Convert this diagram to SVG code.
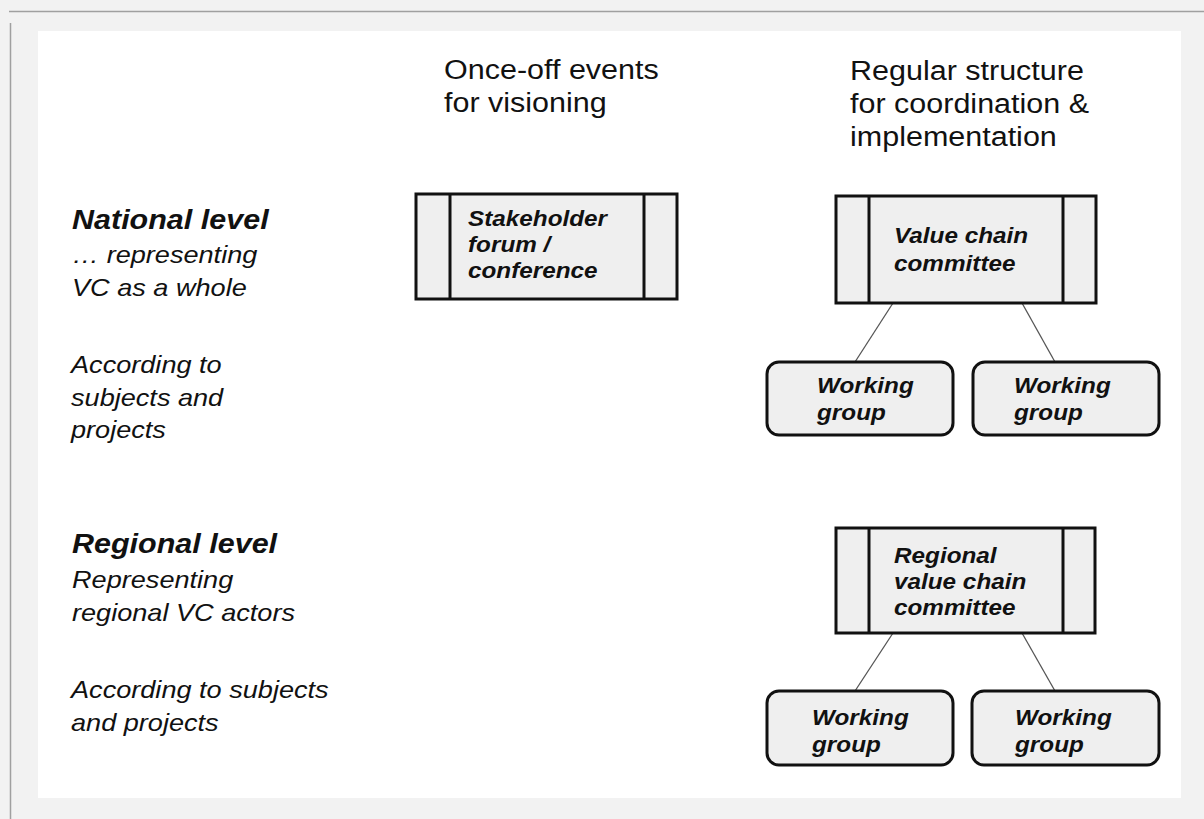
<svg xmlns="http://www.w3.org/2000/svg" width="1204" height="819" viewBox="0 0 1204 819">
<style>
.box{fill:#efefef;stroke:#111;stroke-width:3}
.div{stroke:#111;stroke-width:3}
.conn line{stroke:#555;stroke-width:1.3}
text{font-family:"Liberation Sans",Arial,sans-serif;fill:#111}
.hd{font-size:27px}
.lv{font-size:27px;font-weight:bold;font-style:italic}
.sub{font-size:24px;font-style:italic}
.bx{font-size:21.5px;font-weight:bold;font-style:italic}
</style>
<rect x="0" y="0" width="1204" height="819" fill="#f2f2f2"/>
<line x1="9" y1="11.5" x2="1204" y2="11.5" stroke="#a0a0a0" stroke-width="1.5"/>
<line x1="10.5" y1="23" x2="10.5" y2="819" stroke="#a0a0a0" stroke-width="1.5"/>
<rect x="38" y="31" width="1143" height="767" fill="#ffffff"/>

<g id="headers">
<text class="hd" transform="matrix(1.13 0 0 1 444 79)">Once-off events</text>
<text class="hd" transform="matrix(1.13 0 0 1 444 112)">for visioning</text>
<text class="hd" transform="matrix(1.13 0 0 1 850 80)">Regular structure</text>
<text class="hd" transform="matrix(1.13 0 0 1 850 113)">for coordination &amp;</text>
<text class="hd" transform="matrix(1.13 0 0 1 850 146)">implementation</text>
</g>

<g id="national-label">
<text class="lv" transform="matrix(1.13 0 0 1 72 229)">National level</text>
<text class="sub" transform="matrix(1.13 0 0 1 72 263)">… representing</text>
<text class="sub" transform="matrix(1.13 0 0 1 72 296)">VC as a whole</text>
<text class="sub" transform="matrix(1.13 0 0 1 71 373)">According to</text>
<text class="sub" transform="matrix(1.13 0 0 1 71 406)">subjects and</text>
<text class="sub" transform="matrix(1.13 0 0 1 71 438)">projects</text>
</g>

<g id="regional-label">
<text class="lv" transform="matrix(1.13 0 0 1 72 553)">Regional level</text>
<text class="sub" transform="matrix(1.13 0 0 1 72 588)">Representing</text>
<text class="sub" transform="matrix(1.13 0 0 1 72 621)">regional VC actors</text>
<text class="sub" transform="matrix(1.13 0 0 1 71 698)">According to subjects</text>
<text class="sub" transform="matrix(1.13 0 0 1 71 731)">and projects</text>
</g>

<g class="conn" id="connectors">
<line x1="893" y1="303" x2="855" y2="362"/>
<line x1="1022" y1="303" x2="1055" y2="362"/>
<line x1="893" y1="633" x2="855" y2="691"/>
<line x1="1022" y1="633" x2="1055" y2="691"/>
</g>

<g id="stakeholder-forum">
<rect class="box" x="416" y="194" width="261" height="105"/>
<line class="div" x1="450" y1="194" x2="450" y2="299"/>
<line class="div" x1="644" y1="194" x2="644" y2="299"/>
<text class="bx" transform="matrix(1.13 0 0 1 468 226)">Stakeholder</text>
<text class="bx" transform="matrix(1.13 0 0 1 468 252)">forum /</text>
<text class="bx" transform="matrix(1.13 0 0 1 468 278)">conference</text>
</g>

<g id="value-chain-committee">
<rect class="box" x="836" y="196" width="260" height="107"/>
<line class="div" x1="869" y1="196" x2="869" y2="303"/>
<line class="div" x1="1063" y1="196" x2="1063" y2="303"/>
<text class="bx" transform="matrix(1.13 0 0 1 894 243)">Value chain</text>
<text class="bx" transform="matrix(1.13 0 0 1 894 271)">committee</text>
</g>

<g id="wg-national-1">
<rect class="box" x="767" y="362" width="186" height="73" rx="12"/>
<text class="bx" transform="matrix(1.13 0 0 1 817 393)">Working</text>
<text class="bx" transform="matrix(1.13 0 0 1 817 420)">group</text>
</g>

<g id="wg-national-2">
<rect class="box" x="973" y="362" width="186" height="73" rx="12"/>
<text class="bx" transform="matrix(1.13 0 0 1 1014 393)">Working</text>
<text class="bx" transform="matrix(1.13 0 0 1 1014 420)">group</text>
</g>

<g id="regional-committee">
<rect class="box" x="836" y="528" width="259" height="105"/>
<line class="div" x1="869" y1="528" x2="869" y2="633"/>
<line class="div" x1="1063" y1="528" x2="1063" y2="633"/>
<text class="bx" transform="matrix(1.13 0 0 1 894 563)">Regional</text>
<text class="bx" transform="matrix(1.13 0 0 1 894 589)">value chain</text>
<text class="bx" transform="matrix(1.13 0 0 1 894 615)">committee</text>
</g>

<g id="wg-regional-1">
<rect class="box" x="767" y="691" width="186" height="74" rx="12"/>
<text class="bx" transform="matrix(1.13 0 0 1 812 725)">Working</text>
<text class="bx" transform="matrix(1.13 0 0 1 812 752)">group</text>
</g>

<g id="wg-regional-2">
<rect class="box" x="972" y="691" width="187" height="74" rx="12"/>
<text class="bx" transform="matrix(1.13 0 0 1 1015 725)">Working</text>
<text class="bx" transform="matrix(1.13 0 0 1 1015 752)">group</text>
</g>
</svg>
